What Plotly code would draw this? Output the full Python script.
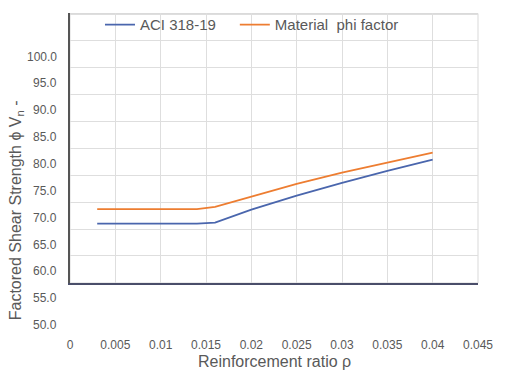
import plotly.graph_objects as go

# Data
rho = [0.003, 0.014, 0.016, 0.020, 0.025, 0.030, 0.035, 0.040]
aci = [68.9, 68.9, 69.1, 71.5, 74.1, 76.5, 78.7, 80.8]
phi = [71.6, 71.6, 72.0, 73.9, 76.3, 78.4, 80.3, 82.1]

y_tick_vals = [100, 95, 90, 85, 80, 75, 70, 65, 60, 55, 50]
y_tick_text = ["100.0", "95.0", "90.0", "85.0", "80.0", "75.0", "70.0", "65.0", "60.0", "55.0", "50.0"]
x_tick_vals = [0, 0.005, 0.01, 0.015, 0.02, 0.025, 0.03, 0.035, 0.04, 0.045]
x_tick_text = ["0", "0.005", "0.01", "0.015", "0.02", "0.025", "0.03", "0.035", "0.04", "0.045"]

Y0, Y1 = 57.85, 108.1
FONT = "Liberation Sans, Arial, sans-serif"
GREY = "#595959"

fig = go.Figure()
fig.add_trace(go.Scatter(x=rho, y=aci, mode="lines", name="ACI 318-19",
                         line=dict(color="#4a66ad", width=1.8), legend="legend"))
fig.add_trace(go.Scatter(x=rho, y=phi, mode="lines", name="Material  phi factor",
                         line=dict(color="#ED7D31", width=1.8), legend="legend2"))

annotations = []
for v, t in zip(y_tick_vals, y_tick_text):
    annotations.append(dict(x=-0.027, xref="paper", y=(v - Y0) / (Y1 - Y0), yref="paper",
                            text=t, showarrow=False, xanchor="right", yanchor="middle",
                            font=dict(family=FONT, size=12, color=GREY)))
annotations.append(dict(x=-0.132, xref="paper", y=0.27, yref="paper",
                        text="Factored Shear Strength ϕ V<sub>n</sub> -", textangle=-90,
                        showarrow=False, xanchor="center", yanchor="middle",
                        font=dict(family=FONT, size=16, color=GREY)))
annotations.append(dict(x=0.5, xref="paper", y=-0.29, yref="paper",
                        text="Reinforcement ratio ρ", showarrow=False,
                        xanchor="center", yanchor="middle",
                        font=dict(family=FONT, size=16, color=GREY)))

leg_common = dict(orientation="h", y=0.956, xanchor="left", yanchor="middle",
                  font=dict(family=FONT, size=15, color=GREY),
                  bgcolor="rgba(0,0,0,0)")

fig.update_layout(
    width=500, height=370,
    margin=dict(l=62, r=30, t=0, b=95),
    paper_bgcolor="white", plot_bgcolor="white",
    font=dict(family=FONT, color=GREY),
    showlegend=True,
    legend=dict(x=0.0735, **leg_common),
    legend2=dict(x=0.404, **leg_common),
    annotations=annotations,
    shapes=[dict(type="rect", xref="paper", yref="paper", x0=0, x1=1, y0=0, y1=0.998,
                 line=dict(color="#d9d9d9", width=1), layer="below")],
)
fig.update_xaxes(range=[0, 0.045], tickvals=x_tick_vals, ticktext=x_tick_text,
                 showgrid=True, gridcolor="#dedede", gridwidth=1,
                 showline=True, linecolor="#4a4e6a", linewidth=1.5,
                 ticks="", ticklabelstandoff=50, zeroline=False,
                 tickfont=dict(family=FONT, size=12, color=GREY))
fig.update_yaxes(range=[Y0, Y1], tick0=57.9, dtick=5, showticklabels=False,
                 showgrid=True, gridcolor="#dedede", gridwidth=1,
                 showline=True, linecolor="#555555", linewidth=1.5,
                 ticks="", zeroline=False)

fig.write_html("out.html")
